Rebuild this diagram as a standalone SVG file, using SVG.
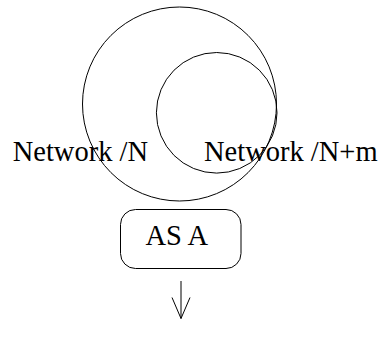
<svg xmlns="http://www.w3.org/2000/svg" width="381" height="339" viewBox="0 0 381 339">
<style>
.s{fill:none;stroke:#000;stroke-width:1}
.t{font-family:"Liberation Serif","Times New Roman",serif;font-size:28.5px;fill:#000}
</style>
<rect width="381" height="339" fill="#fff"/>
<g id="net-n"><circle class="s" cx="179.5" cy="104" r="97"/></g>
<g id="net-nm"><circle class="s" cx="216.7" cy="112.8" r="60.3"/></g>
<g id="label-n"><text class="t" x="12.7" y="160.7">Network /N</text></g>
<g id="label-nm"><text class="t" x="204" y="160.7">Network /N+m</text></g>
<g id="as-a"><rect class="s" x="120.5" y="209.5" width="120.5" height="59" rx="15"/><text class="t" x="176.8" y="245" text-anchor="middle">AS A</text></g>
<g id="connectors"><path class="s" d="M181 281V318.5M172 297.5L181 318.5L190 297.5"/></g>
</svg>
